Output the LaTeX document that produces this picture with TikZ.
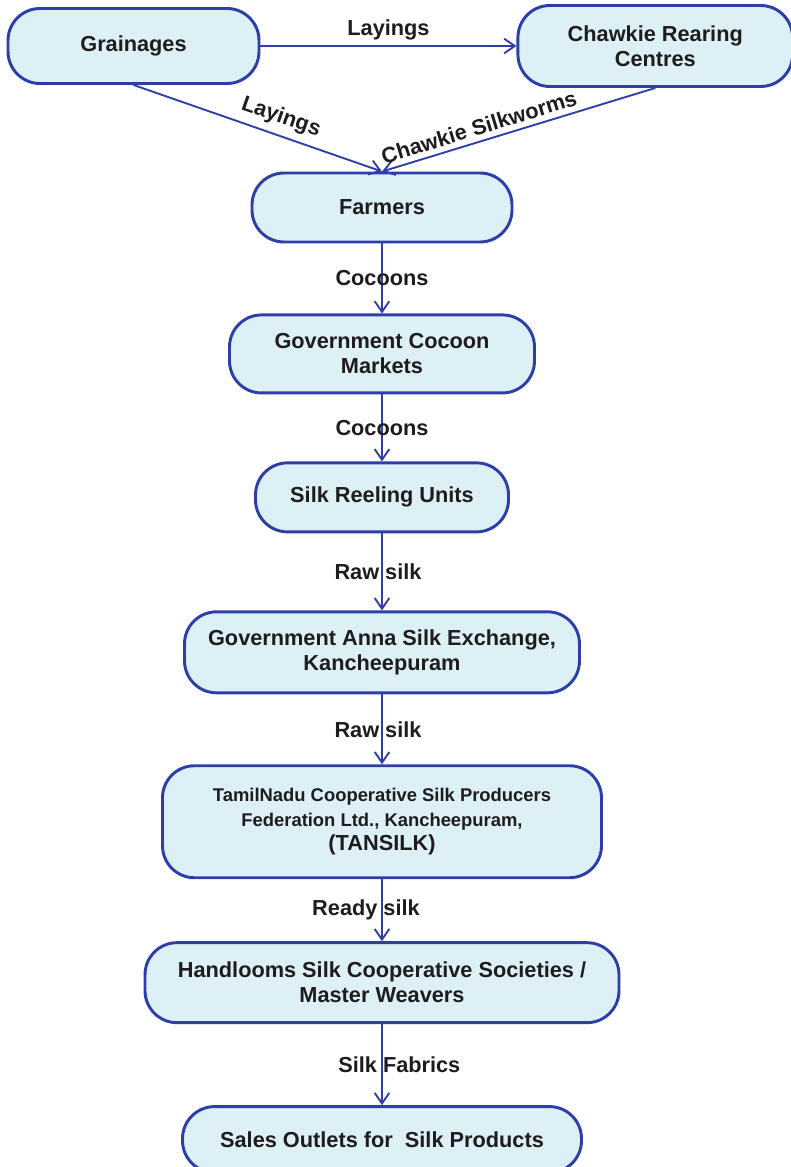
\documentclass[tikz,border=0pt]{standalone}
\usepackage{fontspec}
\setmainfont{Liberation Sans}
\usetikzlibrary{arrows.meta,positioning}
\definecolor{flowblue}{RGB}{45,62,168}
\definecolor{flowfill}{RGB}{221,240,246}
\definecolor{flowtext}{RGB}{30,28,30}
\tikzset{
  box/.style={draw=flowblue, line width=2.2pt, fill=flowfill, rounded corners=24pt,
              align=center, text=flowtext, inner sep=2pt,
              font=\bfseries\fontsize{16.3}{18.8}\selectfont},
  arr/.style={-{Straight Barb[length=8pt,width=11pt]}, draw=flowblue, line width=1.4pt},
  lbl/.style={text=flowtext, inner sep=1pt, font=\bfseries\fontsize{16.3}{18.8}\selectfont}
}

\begin{document}
\begin{tikzpicture}[x=0.75pt, y=-0.75pt]
    \useasboundingbox (0,0) rectangle (790,1167);
    \node[box, minimum width=188.25pt, minimum height=56.25pt] (grain) at (133.5,46) {Grainages};
    \node[box, minimum width=206pt, minimum height=60.75pt, right=192pt of grain] (crc) {Chawkie Rearing\\Centres};
    \node[box, minimum width=195pt, minimum height=51.75pt] (farmers) at (382,207.5) {Farmers};
    \node[box, below=52.5pt of farmers, minimum width=228.75pt, minimum height=58.5pt] (gcm) {Government Cocoon\\Markets};
    \node[box, below=50.25pt of gcm, minimum width=189.75pt, minimum height=51.75pt] (reeling) {Silk Reeling Units};
    \node[box, below=57.75pt of reeling, minimum width=296.25pt, minimum height=60.75pt] (exchange) {Government Anna Silk Exchange,\\Kancheepuram};
    \node[box, below=52.5pt of exchange, minimum width=329.25pt, minimum height=84pt,
          font=\bfseries\fontsize{13.8}{18.5}\selectfont] (tansilk)
          {TamilNadu Cooperative Silk Producers\\Federation Ltd., Kancheepuram,\\\fontsize{16.3}{18.5}\selectfont(TANSILK)};
    \node[box, below=46.5pt of tansilk, minimum width=355.5pt, minimum height=60pt] (looms) {Handlooms Silk Cooperative Societies /\\Master Weavers};
    \node[box, below=60.75pt of looms, minimum width=299.25pt, minimum height=49.5pt] (outlets) {Sales Outlets for\ \ Silk Products};

    \draw[arr] (grain) -- node[lbl, above=3pt] {Layings} (crc);
    \draw[arr] (grain.south) -- node[lbl, sloped, above=4pt, pos=0.57] {Layings} (farmers.north);
    \draw[arr] (crc.south) -- node[lbl, sloped, above=3pt, pos=0.63] {Chawkie Silkworms} (farmers.north);
    \draw[arr] (farmers) -- node[lbl] {Cocoons} (gcm);
    \draw[arr] (gcm) -- node[lbl] {Cocoons} (reeling);
    \draw[arr] (reeling) -- node[lbl, xshift=-3pt] {Raw silk} (exchange);
    \draw[arr] (exchange) -- node[lbl, xshift=-3pt] {Raw silk} (tansilk);
    \draw[arr] (tansilk) -- node[lbl, xshift=-12pt] {Ready silk} (looms);
    \draw[arr] (looms) -- node[lbl, xshift=13pt] {Silk Fabrics} (outlets);
  \end{tikzpicture}
\end{document}
